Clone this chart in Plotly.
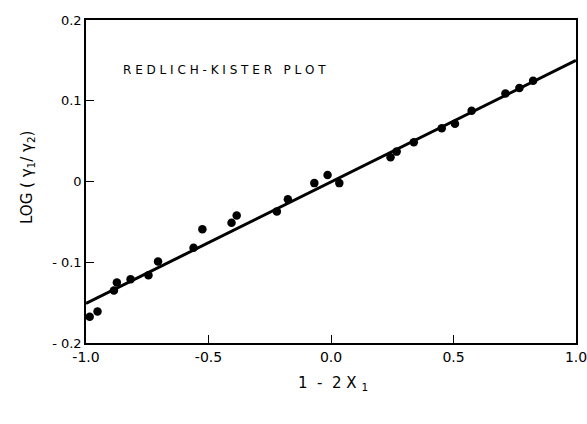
import plotly.graph_objects as go

# data
x_pts = [-0.985, -0.953, -0.886, -0.874, -0.818, -0.745, -0.706, -0.561, -0.525,
         -0.406, -0.385, -0.221, -0.176, -0.068, -0.014, 0.034, 0.243, 0.268,
         0.338, 0.452, 0.506, 0.574, 0.712, 0.769, 0.825]
y_pts = [-0.1675, -0.161, -0.135, -0.125, -0.121, -0.116, -0.099, -0.082, -0.059,
         -0.051, -0.042, -0.037, -0.022, -0.002, 0.008, -0.002, 0.030, 0.037,
         0.0486, 0.066, 0.0716, 0.0877, 0.109, 0.1157, 0.1247]
fit_x = [-1.0, 1.0]
fit_y = [-0.151, 0.150]

x_ticks = [-1.0, -0.5, 0.0, 0.5, 1.0]
x_tick_labels = ["-1.0", "-0.5", "0.0", "0.5", "1.0"]
y_ticks = [-0.2, -0.1, 0.0, 0.1, 0.2]
y_tick_labels = ["- 0.2", "- 0.1", "0", "0.1", "0.2"]

font = "DejaVu Sans, Liberation Sans, sans-serif"

W, H = 587, 424
L, R, T, B = 86, 11, 20, 81
pw = W - L - R
ph = H - T - B


def px_x(px):
    return (px - L) / pw


def px_y(py):
    return 1 - (py - T) / ph


fig = go.Figure()
fig.add_trace(go.Scatter(x=fit_x, y=fit_y, mode="lines",
                         line=dict(color="black", width=3), hoverinfo="skip"))
fig.add_trace(go.Scatter(x=x_pts, y=y_pts, mode="markers",
                         marker=dict(color="black", size=8.5)))

fig.update_layout(
    width=W, height=H,
    margin=dict(l=L, r=R, t=T, b=B, autoexpand=False),
    plot_bgcolor="white", paper_bgcolor="white",
    showlegend=False,
    font=dict(family=font, size=13, color="black"),
    xaxis=dict(range=[-1.0, 1.0], tickvals=x_ticks, ticktext=x_tick_labels,
               ticks="inside", ticklen=8, tickwidth=1, tickcolor="black",
               showline=True, linecolor="black", linewidth=1.5, mirror=True,
               showgrid=False, zeroline=False, automargin=False,
               ticklabeloverflow="allow", tickfont=dict(size=14)),
    yaxis=dict(range=[-0.2, 0.2], tickvals=y_ticks, ticktext=y_tick_labels,
               ticks="inside", ticklen=8, tickwidth=1, tickcolor="black",
               showline=True, linecolor="black", linewidth=1.5, mirror=True,
               showgrid=False, zeroline=False, automargin=False,
               ticklabeloverflow="allow", tickfont=dict(size=13)),
    annotations=[
        dict(text="R E D L I C H - K I S T E R   P L O T",
             x=px_x(121), y=px_y(70), xref="paper", yref="paper",
             xanchor="left", yanchor="middle", showarrow=False,
             font=dict(size=12)),
        dict(text="1  -  2 X <sub>1</sub>", x=px_x(333), y=px_y(383),
             xref="paper", yref="paper", xanchor="center", yanchor="middle",
             showarrow=False, font=dict(size=15)),
        dict(text="LOG ( γ<sub>1</sub>/ γ<sub>2</sub>)", x=px_x(27), y=px_y(178),
             xref="paper", yref="paper", xanchor="center", yanchor="middle",
             textangle=-90, showarrow=False, font=dict(size=15)),
    ],
)

fig.write_html("out.html", config={"displayModeBar": False},
               post_script="document.body.style.margin='0';"
                           "document.body.style.overflow='hidden';")
